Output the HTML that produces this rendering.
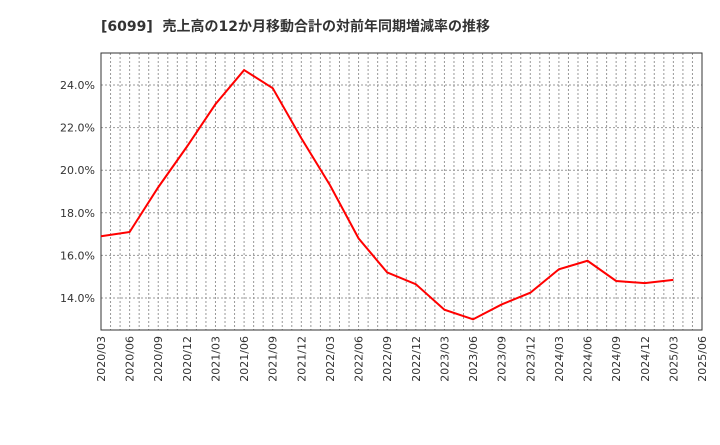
<!DOCTYPE html>
<html><head><meta charset="utf-8"><style>
body{margin:0;background:#fff;width:720px;height:440px;overflow:hidden}
text{font-family:"DejaVu Sans","Noto Sans CJK JP",sans-serif}
</style></head><body>
<svg id="c" width="720" height="440">
<text x="101" y="31" font-size="14" font-weight="bold" fill="#333" xml:space="preserve">[6099]  売上高の12か月移動合計の対前年同期増減率の推移</text>
</svg>
<script>
const categories=["2020/03","2020/06","2020/09","2020/12","2021/03","2021/06","2021/09","2021/12","2022/03","2022/06","2022/09","2022/12","2023/03","2023/06","2023/09","2023/12","2024/03","2024/06","2024/09","2024/12","2025/03"];
const values=[16.9,17.1,19.2,21.1,23.1,24.7,23.85,21.5,19.3,16.8,15.2,14.65,13.45,13.0,13.7,14.25,15.35,15.75,14.8,14.7,14.85];
const tickLabels=["2020/03","2020/06","2020/09","2020/12","2021/03","2021/06","2021/09","2021/12","2022/03","2022/06","2022/09","2022/12","2023/03","2023/06","2023/09","2023/12","2024/03","2024/06","2024/09","2024/12","2025/03","2025/06"];
const yTicks=[14,16,18,20,22,24];
const L=101,R=702,T=53,B=330,yMin=12.5,yMax=25.5,nQ=21;
const svg=document.getElementById('c'),NS='http://www.w3.org/2000/svg';
const x=q=>L+(R-L)*q/nQ, y=v=>B-(B-T)*(v-yMin)/(yMax-yMin);
function mk(t,a){const e=document.createElementNS(NS,t);for(const k in a)e.setAttribute(k,a[k]);svg.appendChild(e);return e;}
for(let m=1;m<nQ*3;m++){const g=mk('line',{x1:x(m/3),x2:x(m/3),y1:T,y2:B,stroke:'#999','stroke-dasharray':'2,2'});

}
yTicks.forEach(v=>{const g=mk('line',{x1:L,x2:R,y1:y(v),y2:y(v),stroke:'#999','stroke-dasharray':'2,2'});


const t=mk('text',{x:L-6,y:y(v)+4,'text-anchor':'end','font-size':11,fill:'#333'});t.textContent=v.toFixed(1)+'%';

});
tickLabels.forEach((s,i)=>{const t=mk('text',{transform:`translate(${x(i)+4},336) rotate(-90)`,'text-anchor':'end','font-size':11,fill:'#333'});t.textContent=s;

});
const fr=mk('rect',{x:L,y:T,width:R-L,height:B-T,fill:'none',stroke:'#333'});


const p=mk('polyline',{points:values.map((v,i)=>x(i)+','+y(v)).join(' '),fill:'none',stroke:'#f00','stroke-width':2});


</script>
</body></html>
